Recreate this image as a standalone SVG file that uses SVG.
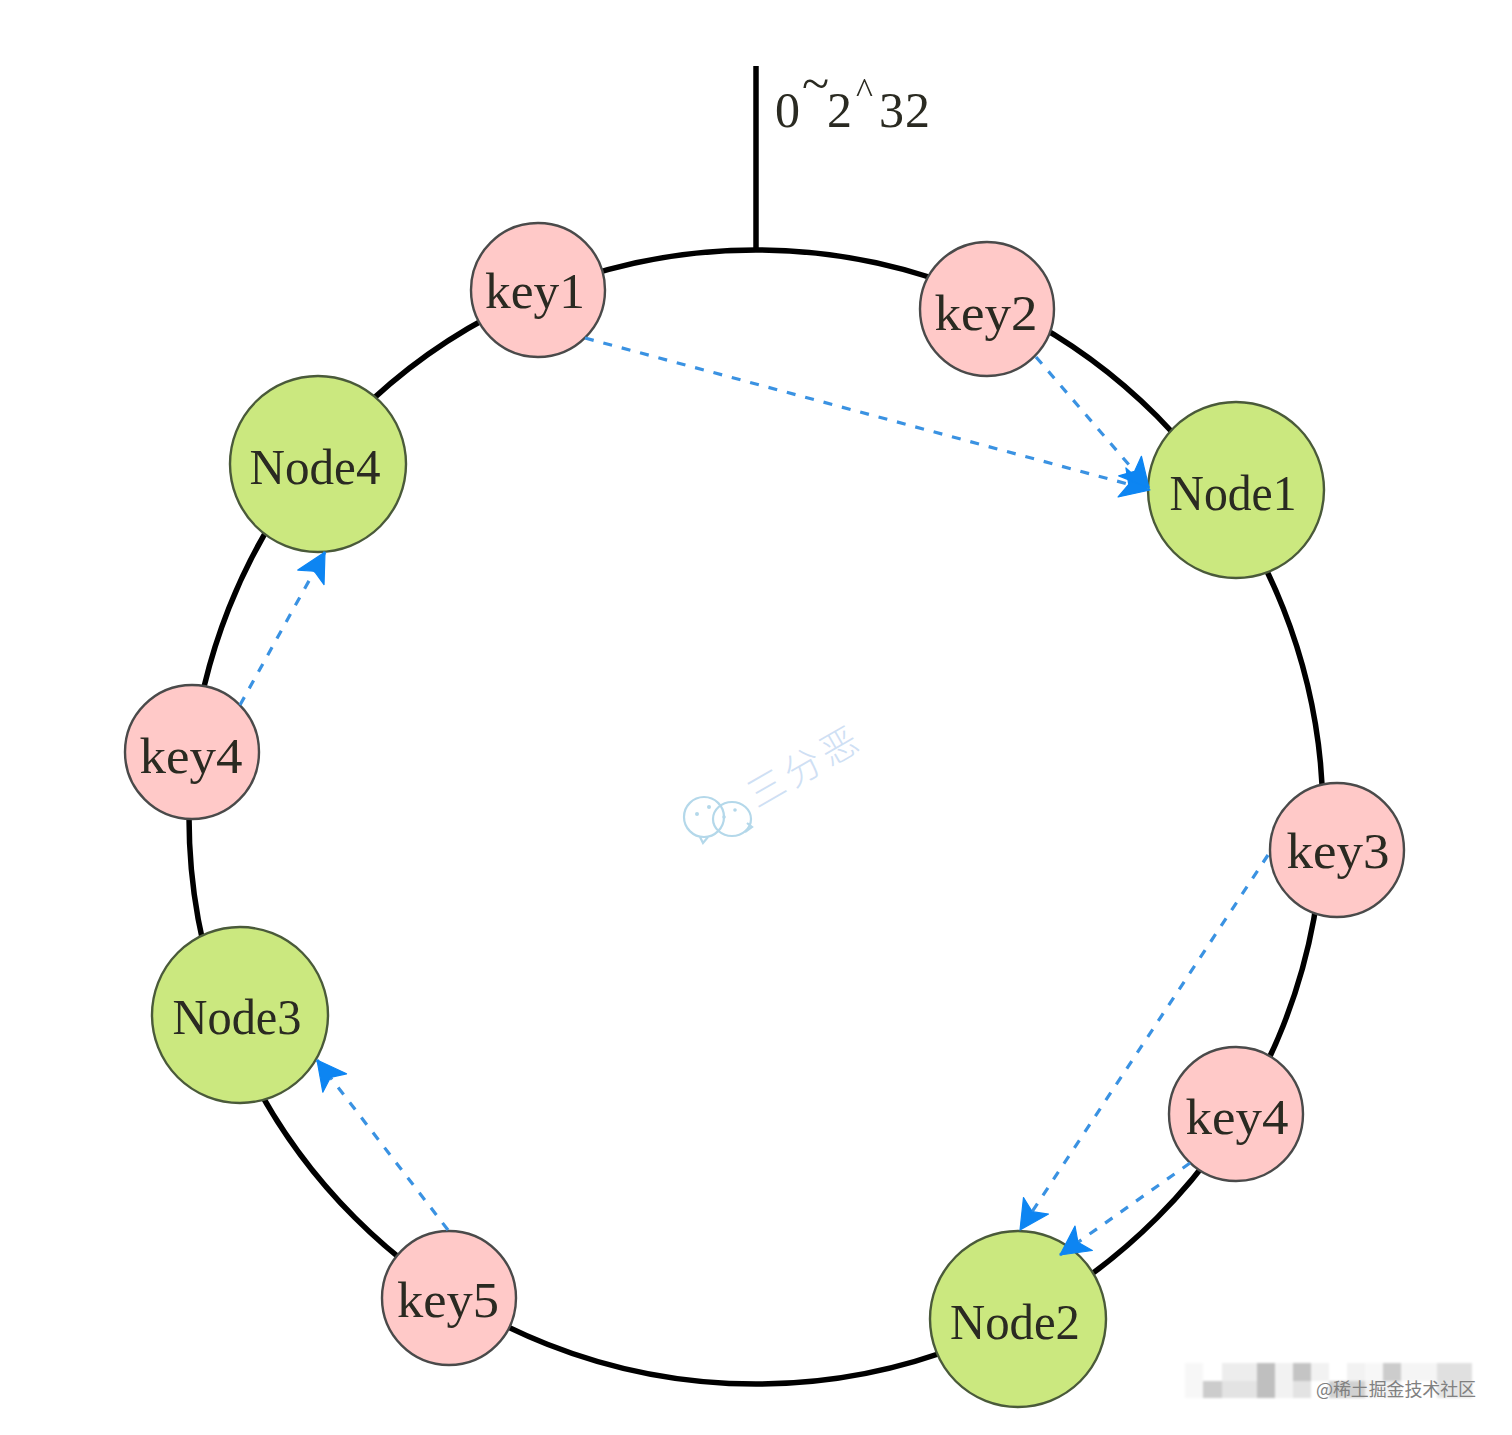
<svg xmlns="http://www.w3.org/2000/svg" width="1512" height="1435" viewBox="0 0 1512 1435">
<style>
.t{font-family:"Liberation Serif","Noto Serif",serif;font-size:50px;fill:#2a2a20;text-anchor:middle;filter:url(#s)}
.k{fill:#ffc9c8;stroke:#4a4a4a;stroke-width:2.4}
.n{fill:#cbe87f;stroke:#4a5a3a;stroke-width:2.4}
.c{fill:none;stroke:#3a92e2;stroke-width:3.2;stroke-dasharray:9 10;marker-end:url(#a)}
.w{fill:none;stroke:#b4d8ea;stroke-width:2.2}
.d{fill:#b4d8ea}
.m{fill:#000}
</style>
<defs>
<marker id="a" markerUnits="userSpaceOnUse" markerWidth="36" markerHeight="36" refX="31" refY="18" orient="auto" viewBox="0 0 36 36">
<path d="M31 18L2 3L9 18L2 33Z" fill="#0d85f2" stroke="#0d85f2" stroke-width="1.2" stroke-linejoin="round"/>
</marker>
<filter id="b" x="-5%" y="-5%" width="110%" height="110%"><feGaussianBlur stdDeviation="1.2"/></filter>
<filter id="s" x="-5%" y="-20%" width="110%" height="140%"><feGaussianBlur stdDeviation="0.5"/></filter>
</defs>
<rect width="1512" height="1435" fill="#fff"/>
<g id="mosaic" filter="url(#b)">
<rect class="m" x="1185" y="1363" width="18" height="35" fill-opacity=".03"/>
<rect class="m" x="1222" y="1363" width="35" height="18" fill-opacity=".07"/>
<rect class="m" x="1257" y="1363" width="18" height="35" fill-opacity=".25"/>
<rect class="m" x="1275" y="1363" width="18" height="35" fill-opacity=".05"/>
<rect class="m" x="1293" y="1363" width="18" height="18" fill-opacity=".23"/>
<rect class="m" x="1311" y="1363" width="18" height="18" fill-opacity=".05"/>
<rect class="m" x="1347" y="1363" width="18" height="18" fill-opacity=".05"/>
<rect class="m" x="1365" y="1363" width="18" height="18" fill-opacity=".03"/>
<rect class="m" x="1383" y="1363" width="18" height="18" fill-opacity=".2"/>
<rect class="m" x="1401" y="1363" width="36" height="18" fill-opacity=".04"/>
<rect class="m" x="1437" y="1363" width="35" height="18" fill-opacity=".12"/>
<rect class="m" x="1203" y="1381" width="19" height="17" fill-opacity=".2"/>
<rect class="m" x="1222" y="1381" width="35" height="17" fill-opacity=".11"/>
<rect class="m" x="1293" y="1381" width="18" height="17" fill-opacity=".11"/>
<rect class="m" x="1329" y="1381" width="36" height="17" fill-opacity=".18"/>
<rect class="m" x="1365" y="1381" width="36" height="17" fill-opacity=".05"/>
<rect class="m" x="1437" y="1381" width="35" height="17" fill-opacity=".1"/>
</g>
<g id="ring">
<circle cx="756" cy="817" r="567" fill="none" stroke="#000" stroke-width="5.5"/>
<line x1="756" y1="66" x2="756" y2="250" stroke="#000" stroke-width="5.5"/>
<text class="t" style="text-anchor:start" x="775" y="127">0<tspan x="802" y="100">~</tspan><tspan x="827" y="127">2</tspan><tspan x="856" y="103" font-size="36">^</tspan><tspan x="879 905" y="127">32</tspan></text>
</g>
<g id="watermark">
<circle class="w" cx="704" cy="817" r="20"/>
<path class="w" d="M700 837L703 843L708 837"/>
<ellipse class="w" cx="732" cy="819" rx="19" ry="17" fill="#fff"/>
<path class="w" d="M747 823L752 827L745 832"/>
<circle class="d" cx="697" cy="814" r="2"/><circle class="d" cx="709" cy="807" r="2"/>
<circle class="d" cx="724" cy="817" r="1.8"/><circle class="d" cx="735" cy="810" r="1.8"/>
<text x="757" y="809" transform="rotate(-30 757 809)" font-family="'Noto Sans CJK SC',sans-serif" font-size="37" font-weight="300" letter-spacing="5" fill="#cfe0f4">三分恶</text>
</g>
<g id="key1"><circle class="k" cx="538" cy="290" r="67"/><text class="t" x="535" y="308" textLength="100" lengthAdjust="spacingAndGlyphs">key1</text></g>
<g id="key2"><circle class="k" cx="987" cy="309" r="67"/><text class="t" x="986" y="330" textLength="103" lengthAdjust="spacingAndGlyphs">key2</text></g>
<g id="node1"><circle class="n" cx="1236" cy="490" r="88"/><text class="t" x="1233" y="510" textLength="127" lengthAdjust="spacingAndGlyphs">Node1</text></g>
<g id="key3"><circle class="k" cx="1337" cy="850" r="67"/><text class="t" x="1338" y="868" textLength="103" lengthAdjust="spacingAndGlyphs">key3</text></g>
<g id="key4b"><circle class="k" cx="1236" cy="1114" r="67"/><text class="t" x="1237" y="1134" textLength="103" lengthAdjust="spacingAndGlyphs">key4</text></g>
<g id="node2"><circle class="n" cx="1018" cy="1319" r="88"/><text class="t" x="1015" y="1339" textLength="130" lengthAdjust="spacingAndGlyphs">Node2</text></g>
<g id="key5"><circle class="k" cx="449" cy="1298" r="67"/><text class="t" x="448" y="1317" textLength="102" lengthAdjust="spacingAndGlyphs">key5</text></g>
<g id="node3"><circle class="n" cx="240" cy="1015" r="88"/><text class="t" x="237" y="1034" textLength="129" lengthAdjust="spacingAndGlyphs">Node3</text></g>
<g id="key4a"><circle class="k" cx="192" cy="752" r="67"/><text class="t" x="191" y="773" textLength="103" lengthAdjust="spacingAndGlyphs">key4</text></g>
<g id="node4"><circle class="n" cx="318" cy="464" r="88"/><text class="t" x="315" y="484" textLength="131" lengthAdjust="spacingAndGlyphs">Node4</text></g>
<g id="connectors">
<line class="c" x1="585" y1="338" x2="1150" y2="490"/>
<line class="c" x1="1036" y1="357" x2="1149" y2="488"/>
<line class="c" x1="1268" y1="855" x2="1020" y2="1230"/>
<line class="c" x1="1190" y1="1163" x2="1060" y2="1255"/>
<line class="c" x1="448" y1="1230" x2="317" y2="1060"/>
<line class="c" x1="240" y1="705" x2="325" y2="552"/>
</g>
<text id="credit" x="1316" y="1396" font-family="'Noto Sans CJK SC',sans-serif" font-size="18" fill="#808080" textLength="160">@稀土掘金技术社区</text>
</svg>
